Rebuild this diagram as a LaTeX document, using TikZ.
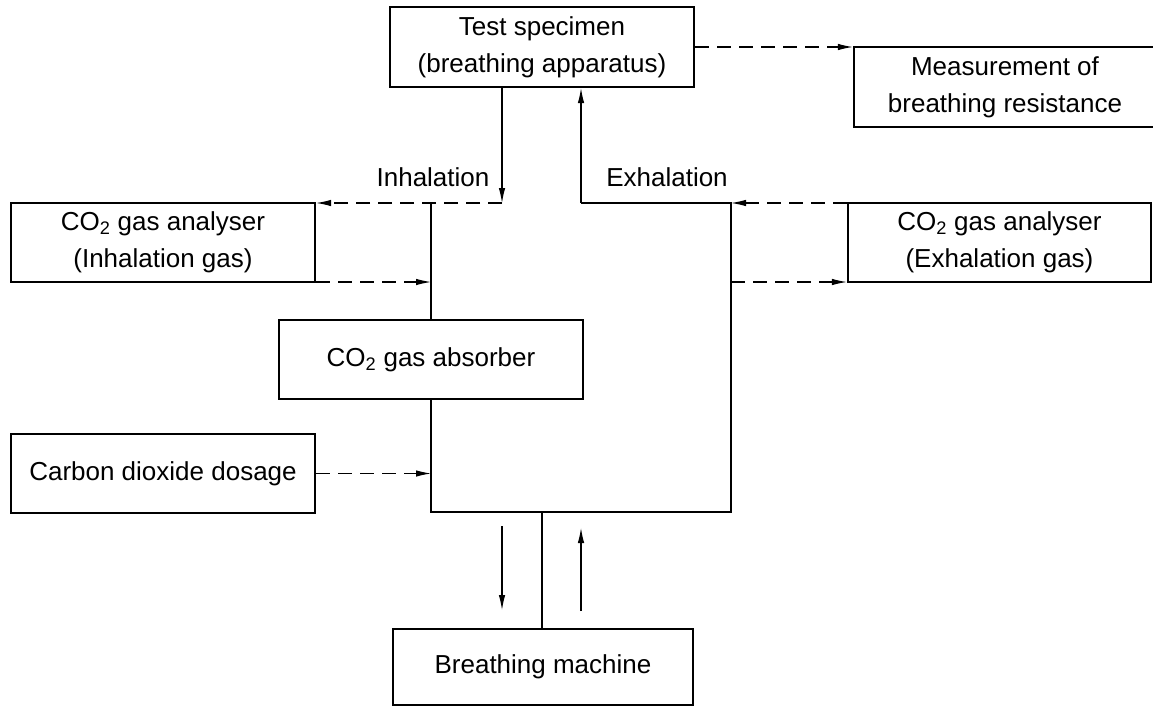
\documentclass[tikz,border=0pt]{standalone}
\usepackage{fontspec}
\setmainfont{Liberation Sans}
\usetikzlibrary{arrows.meta}
\begin{document}
\begin{tikzpicture}[x=1pt,y=-1pt,
  box/.style={draw, line width=2.2pt, inner sep=0pt, align=center,
    font=\fontsize{26}{37}\selectfont},
  conn/.style={line width=1.1pt},
  arr/.style={conn, -{Latex[length=15pt,width=6.5pt]}},
  darr/.style={arr, dash pattern=on 14pt off 8pt},
  lbl/.style={font=\fontsize{26}{30}\selectfont, inner sep=0pt}]
\useasboundingbox (0,0) rectangle (1153,707);
\node[box, minimum width=304pt, minimum height=80pt] (test) at (542,47) {Test specimen\\(breathing apparatus)};
\node[box, minimum width=302pt, minimum height=80pt] (meas) at (1005,87) {Measurement of\\breathing resistance};
\node[box, minimum width=304pt, minimum height=79pt] (anin) at (163,242.5) {CO\textsubscript{2} gas analyser\\(Inhalation gas)};
\node[box, minimum width=303pt, minimum height=79pt] (anex) at (999.5,242.5) {CO\textsubscript{2} gas analyser\\(Exhalation gas)};
\node[box, minimum width=304pt, minimum height=79pt] (abs) at (431,359.5) {CO\textsubscript{2} gas absorber};
\node[box, minimum width=304pt, minimum height=79pt] (dose) at (163,473.5) {Carbon dioxide dosage};
\node[box, minimum width=300pt, minimum height=76pt] (mach) at (543,667) {Breathing machine};
\node[lbl] (linh) at (433,177) {Inhalation};
\node[lbl] (lexh) at (667,177) {Exhalation};
% junction coordinates
\coordinate (ji) at (502,203);
\coordinate (jl) at (431,203);
\coordinate (jl2) at (431,282);
\coordinate (jl3) at (431,473.5);
\coordinate (jbl) at (431,512);
\coordinate (jbr) at (731,512);
\coordinate (jr) at (731,203);
\coordinate (jr2) at (731,282);
\coordinate (je) at (581,203);
\coordinate (jm) at (542,512);
\coordinate (d1) at (502,526);
\coordinate (d2) at (502,610);
\coordinate (u1) at (581,611);
\coordinate (u2) at (581,528);
% test specimen to measurement
\draw[darr] (test.east) -- (test.east -| meas.west);
% inhalation
\draw[arr] (test.south -| ji) -- (ji);
\draw[darr] (ji) -- (ji -| anin.east);
\draw[darr] (jl2 -| anin.east) -- (jl2);
\draw[conn] (jl) -- (abs.north -| jl);
\draw[conn] (abs.south -| jl) -- (jbl) -- (jbr) -- (jr) -- (je);
\draw[arr] (je) -- (test.south -| je);
\draw[darr] (dose.east) -- (jl3);
% exhalation analyser
\draw[darr] (anex.west |- jr) -- (jr);
\draw[darr] (jr2) -- (jr2 -| anex.west);
% breathing machine
\draw[conn] (jm) -- (mach.north -| jm);
\draw[arr] (d1) -- (d2);
\draw[arr] (u1) -- (u2);
\end{tikzpicture}
\end{document}
